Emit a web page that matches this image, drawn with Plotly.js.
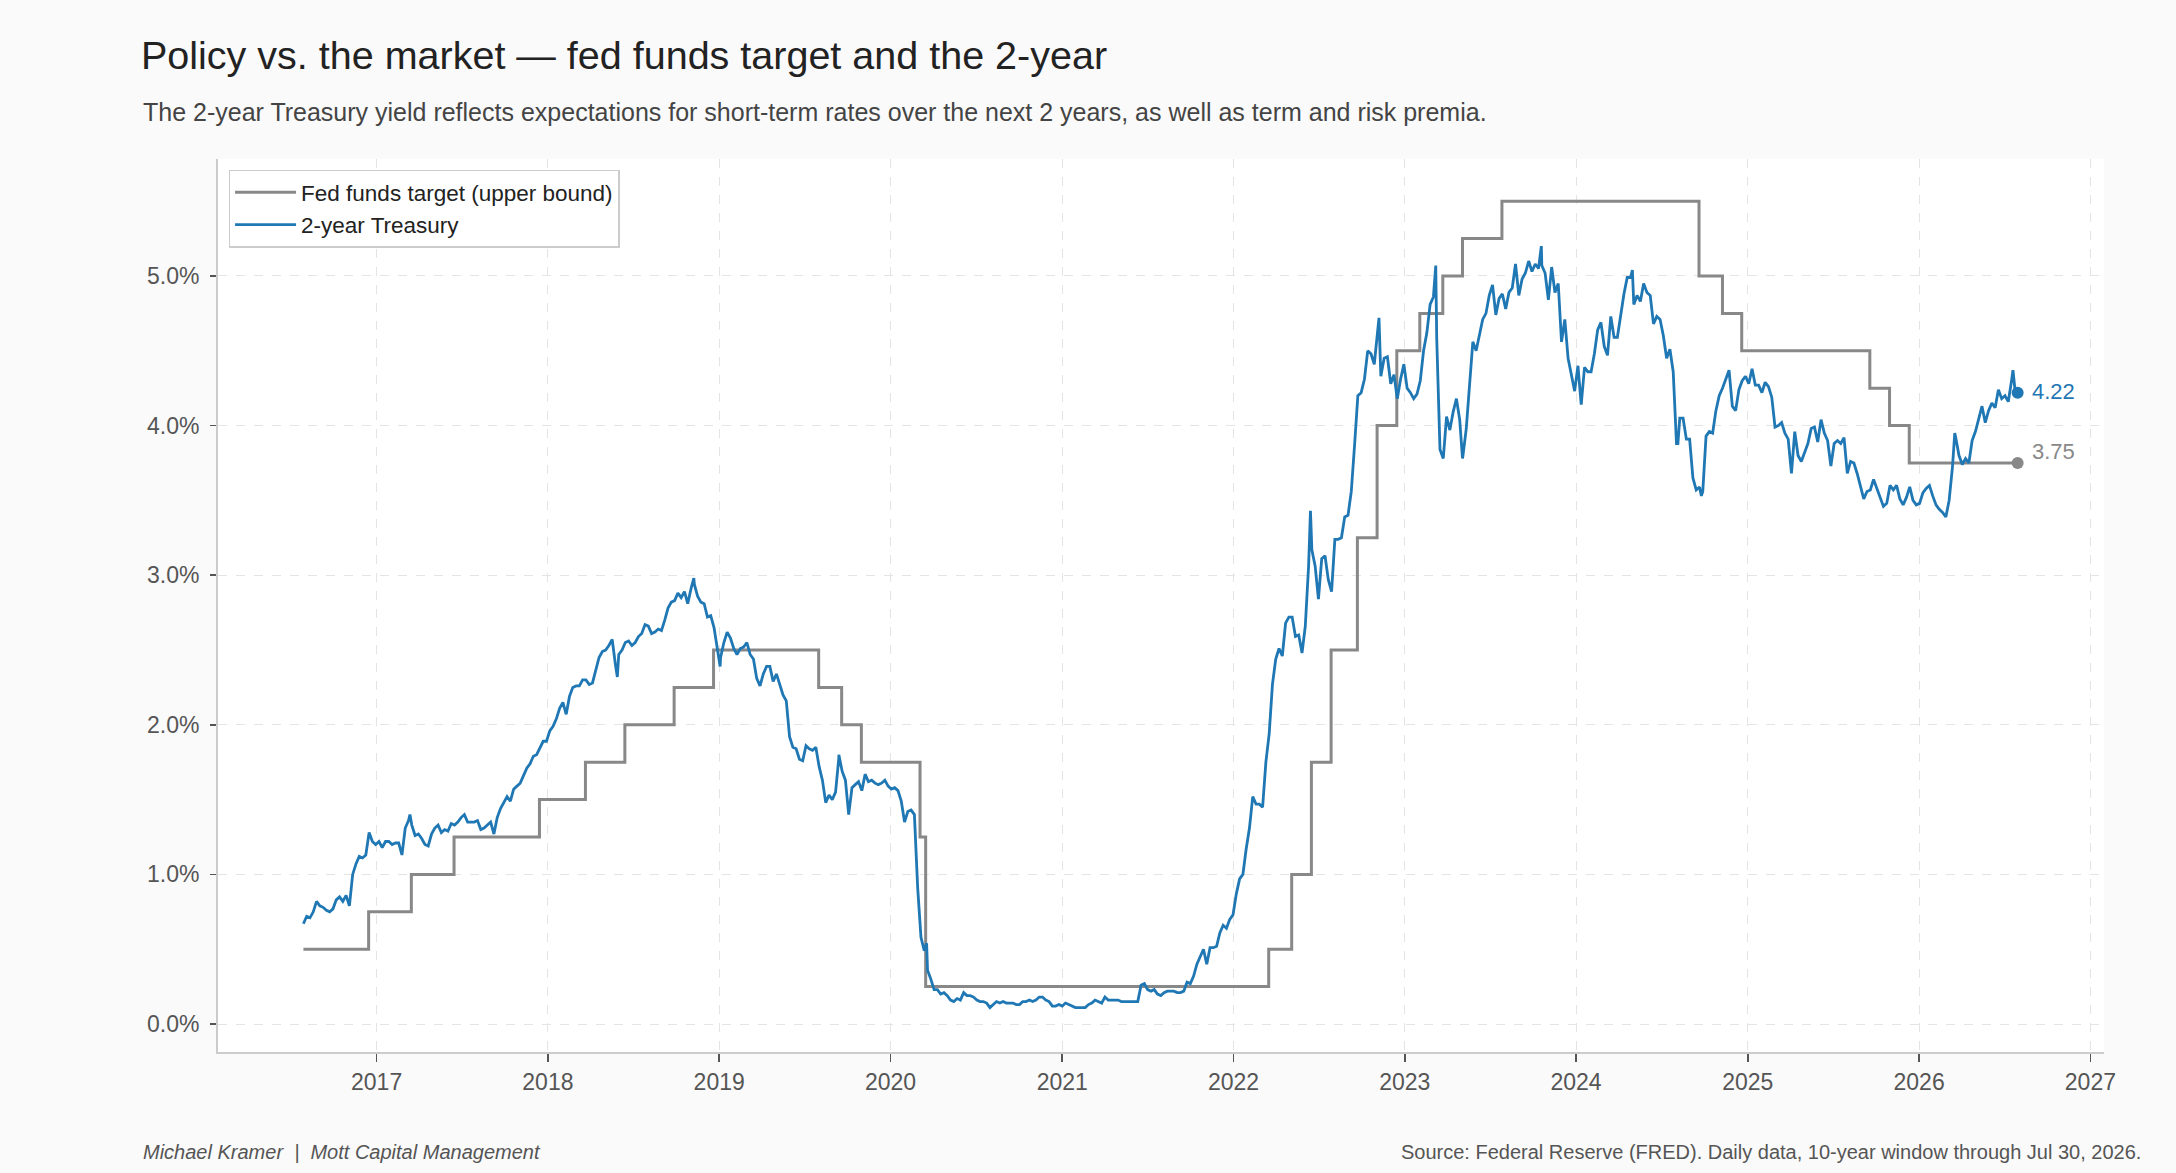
<!DOCTYPE html>
<html>
<head>
<meta charset="utf-8">
<script src="https://cdn.plot.ly/plotly-3.0.1.min.js"></script>
<style>
  html, body { margin: 0; padding: 0; background: #fafafa; }
  #chart { width: 2176px; height: 1173px; }
</style>
</head>
<body>
<div id="chart"></div>
<script>
// ---------------- DATA ----------------
// Fed funds target, upper bound (step changes)
const fedDates = ['2016-07-29','2016-12-15','2017-03-16','2017-06-15','2017-12-14','2018-03-22','2018-06-14','2018-09-27','2018-12-20','2019-08-01','2019-09-19','2019-10-31','2020-03-04','2020-03-16','2022-03-17','2022-05-05','2022-06-16','2022-07-28','2022-09-22','2022-11-03','2022-12-15','2023-02-02','2023-03-23','2023-05-04','2023-07-27','2024-09-19','2024-11-08','2024-12-19','2025-09-18','2025-10-30','2025-12-11','2026-07-30'];
const fedValues = [0.50,0.75,1.00,1.25,1.50,1.75,2.00,2.25,2.50,2.25,2.00,1.75,1.25,0.25,0.50,1.00,1.75,2.50,3.25,4.00,4.50,4.75,5.00,5.25,5.50,5.00,4.75,4.50,4.25,4.00,3.75,3.75];

// 2-year Treasury yield, weekly readings (Fridays) starting 2016-07-29
const ustStart = '2016-07-29';
const ust2016 = [0.67,0.72,0.71,0.75,0.82,0.79,0.78,0.76,0.75,0.77,0.83,0.85,0.82,0.86,0.79,1.00,1.07,1.12,1.11,1.13,1.28,1.22,1.20];
const ust2017 = [1.22,1.18,1.22,1.22,1.20,1.21,1.21,1.13,1.31,1.36,1.33,1.26,1.27,1.24,1.20,1.19,1.27,1.31,1.33,1.28,1.30,1.29,1.34,1.33,1.35,1.38,1.40,1.35,1.35,1.35,1.36,1.30,1.31,1.33,1.35,1.27,1.38,1.44,1.48,1.52,1.49,1.57,1.59,1.61,1.66,1.71,1.74,1.79,1.80,1.84,1.89,1.89];
const ust2018 = [1.96,1.99,2.04,2.11,2.15,2.07,2.19,2.25,2.26,2.26,2.30,2.30,2.27,2.28,2.37,2.45,2.49,2.50,2.53,2.57,2.40,2.47,2.50,2.55,2.56,2.53,2.55,2.59,2.61,2.67,2.66,2.61,2.62,2.64,2.63,2.70,2.78,2.82,2.83,2.88,2.85,2.89,2.81,2.91,2.94,2.86,2.82,2.81,2.72,2.73,2.65,2.52];
const ust2019 = [2.45,2.55,2.62,2.58,2.51,2.47,2.51,2.52,2.55,2.47,2.44,2.31,2.26,2.34,2.39,2.39,2.29,2.34,2.27,2.20,2.16,1.92,1.85,1.84,1.77,1.76,1.86,1.84,1.83,1.85,1.72,1.63,1.48,1.53,1.50,1.55,1.78,1.69,1.63,1.40,1.58,1.60,1.62,1.56,1.67,1.62,1.63,1.61,1.60,1.61,1.63,1.59];
const ust2020 = [1.57,1.58,1.56,1.49,1.35,1.42,1.43,1.40,0.91,0.58,0.49,0.36,0.30,0.23,0.23,0.20,0.21,0.19,0.16,0.15,0.17,0.16,0.21,0.19,0.19,0.18,0.16,0.15,0.15,0.14,0.11,0.13,0.15,0.14,0.15,0.14,0.14,0.14,0.13,0.13,0.15,0.15,0.16,0.15,0.16,0.18,0.18,0.16,0.15,0.12,0.12,0.13];
const ust2021 = [0.12,0.14,0.13,0.12,0.11,0.11,0.11,0.11,0.13,0.14,0.16,0.15,0.14,0.18,0.16,0.16,0.16,0.16,0.15,0.15,0.15,0.15,0.15,0.15,0.26,0.27,0.23,0.22,0.23,0.20,0.19,0.21,0.22,0.22,0.22,0.21,0.21,0.22,0.28,0.27,0.32,0.40,0.45,0.50,0.40,0.51,0.51,0.52,0.61,0.66,0.64,0.70,0.73];
const ust2022 = [0.87,0.97,1.00,1.17,1.31,1.52,1.47,1.47,1.45,1.75,1.94,2.27,2.44,2.51,2.46,2.68,2.72,2.72,2.59,2.60,2.48,2.66,3.06,3.17,3.06,2.84,3.11,3.13,2.97,2.89,3.24,3.24,3.25,3.39,3.40,3.56,3.87,4.20,4.22,4.31,4.50,4.48,4.41,4.66,4.33,4.45,4.46,4.28,4.34,4.18,4.31,4.41];
const ust2023 = [4.25,4.22,4.18,4.21,4.30,4.50,4.62,4.81,4.86,4.59,3.84,3.78,4.06,3.97,4.09,4.18,4.04,3.80,3.98,4.28,4.56,4.50,4.60,4.71,4.75,4.87,4.94,4.74,4.85,4.88,4.78,4.89,4.92,5.08,4.87,4.98,5.02,5.10,5.03,5.08,5.05,5.07,5.02,4.84,5.06,4.89,4.95,4.56,4.71,4.45,4.33,4.23];
const ust2024 = [4.40,4.14,4.39,4.36,4.36,4.48,4.64,4.69,4.53,4.47,4.73,4.59,4.59,4.75,4.88,4.99,4.99,4.81,4.87,4.83,4.95,4.89,4.87,4.68,4.73,4.71,4.60,4.45,4.51,4.36,3.88,4.05,4.05,3.91,3.91,3.65,3.57,3.59,3.56,3.93,3.96,3.95,4.10,4.20,4.25,4.31,4.37,4.13,4.10,4.24,4.30,4.33];
const ust2025 = [4.28,4.38,4.27,4.27,4.22,4.29,4.26,4.19,3.99,4.00,4.02,3.95,3.91,3.68,3.96,3.80,3.76,3.82,3.88,3.98,3.99,3.89,4.04,3.95,3.90,3.73,3.88,3.90,3.88,3.92,3.68,3.76,3.75,3.68,3.59,3.51,3.56,3.57,3.64,3.58,3.52,3.46,3.48,3.60,3.57,3.60,3.51,3.47,3.52,3.59,3.50,3.47];
const ust2026 = [3.48,3.55,3.58,3.60,3.53,3.47,3.44,3.42,3.39,3.50,3.72,3.92,3.80,3.74,3.78,3.75,3.90,3.96,4.05,4.13,4.02,4.10,4.15,4.12,4.24,4.18,4.20,4.16,4.30,4.25];
// Extra daily readings (intra-week highs/lows) and the last observation
const ustExtraDates  = ['2017-03-13','2018-05-29','2018-11-08','2019-01-03','2019-09-13','2020-03-18','2022-06-14','2022-11-07','2023-03-08','2023-05-04','2023-10-19','2024-04-30','2024-08-05','2024-09-24','2026-03-18','2026-07-20','2026-07-30'];
const ustExtraValues = [1.40,2.32,2.98,2.39,1.80,0.54,3.43,4.72,5.07,3.78,5.20,5.04,3.88,3.53,3.95,4.37,4.22];

const endDate = '2026-07-30';
const endFed = 3.75;
const endUst = 4.22;

const yearTicks = ['2017','2018','2019','2020','2021','2022','2023','2024','2025','2026','2027'];
const yTicks = [0,1,2,3,4,5];

// ---------------- BUILD ----------------
function addDays(iso, n) {
  const d = new Date(iso + 'T00:00:00Z');
  d.setUTCDate(d.getUTCDate() + n);
  return d.toISOString().slice(0, 10);
}
const weekly = [].concat(ust2016, ust2017, ust2018, ust2019, ust2020, ust2021, ust2022, ust2023, ust2024, ust2025, ust2026);
let pts = weekly.map((v, i) => [addDays(ustStart, 7 * i), v]);
ustExtraDates.forEach((d, i) => pts.push([d, ustExtraValues[i]]));
pts.sort((a, b) => (a[0] < b[0] ? -1 : a[0] > b[0] ? 1 : 0));
const ustX = pts.map(p => p[0]);
const ustY = pts.map(p => p[1]);

const FONT = '"Liberation Sans", Arial, Helvetica, sans-serif';
const GRAY = '#888888';
const BLUE = '#1f77b4';

const traces = [
  { x: fedDates, y: fedValues, type: 'scatter', mode: 'lines', line: { shape: 'hv', color: GRAY, width: 3 }, name: 'Fed funds target (upper bound)' },
  { x: ustX, y: ustY, type: 'scatter', mode: 'lines', line: { color: BLUE, width: 2.8 }, name: '2-year Treasury' },
  { x: [endDate], y: [endFed], type: 'scatter', mode: 'markers', marker: { color: GRAY, size: 12 }, showlegend: false },
  { x: [endDate], y: [endUst], type: 'scatter', mode: 'markers', marker: { color: BLUE, size: 12 }, showlegend: false }
];

const layout = {
  width: 2176, height: 1173,
  paper_bgcolor: '#fafafa', plot_bgcolor: '#ffffff',
  margin: { l: 218, r: 72, t: 159, b: 121 },
  font: { family: FONT, color: '#333' },
  hovermode: false,
  title: {
    text: 'Policy vs. the market — fed funds target and the 2-year',
    xref: 'container', yref: 'container',
    x: 141 / 2176, xanchor: 'left',
    y: 1 - 55 / 1173, yanchor: 'middle',
    font: { size: 39.5, color: '#222222', family: FONT }
  },
  xaxis: {
    type: 'date',
    range: ['2016-01-29', '2027-01-30'],
    tickvals: yearTicks.map(y => y + '-01-01'),
    ticktext: yearTicks,
    showgrid: true, gridcolor: '#e4e4e4', griddash: 'dash', gridwidth: 1,
    showline: true, linecolor: '#cccccc', linewidth: 2,
    ticks: 'outside', ticklen: 8, tickwidth: 1.5, tickcolor: '#555555',
    tickfont: { size: 23, color: '#555555' },
    zeroline: false
  },
  yaxis: {
    range: [-0.187, 5.782],
    tickvals: yTicks,
    ticktext: yTicks.map(v => v.toFixed(1) + '%'),
    showgrid: true, gridcolor: '#e4e4e4', griddash: 'dash', gridwidth: 1,
    showline: true, linecolor: '#cccccc', linewidth: 2,
    ticks: 'outside', ticklen: 6, tickwidth: 1.5, tickcolor: '#555555',
    tickfont: { size: 23, color: '#555555' },
    ticklabelstandoff: 6,
    zeroline: false
  },
  showlegend: true,
  legend: {
    x: 0.0056, y: 0.988, xanchor: 'left', yanchor: 'top',
    bgcolor: '#ffffff', bordercolor: '#cccccc', borderwidth: 1.5,
    font: { size: 22.5, color: '#222222', family: FONT },
    itemwidth: 61,
    tracegroupgap: 0
  },
  annotations: [
    {
      text: 'The 2-year Treasury yield reflects expectations for short-term rates over the next 2 years, as well as term and risk premia.',
      xref: 'paper', yref: 'paper', x: (141 - 218) / 1886, xanchor: 'left',
      y: (1052 - 112) / 893, yanchor: 'middle', showarrow: false,
      font: { size: 25, color: '#444444', family: FONT }
    },
    {
      text: 'Michael Kramer\u00a0\u00a0|\u00a0\u00a0Mott Capital Management',
      xref: 'paper', yref: 'paper', x: (141 - 218) / 1886, xanchor: 'left',
      y: (1052 - 1152) / 893, yanchor: 'middle', showarrow: false,
      font: { size: 20, color: '#555555', family: FONT, style: 'italic' }
    },
    {
      text: 'Source: Federal Reserve (FRED). Daily data, 10-year window through Jul 30, 2026.',
      xref: 'paper', yref: 'paper', x: (2143 - 218) / 1886, xanchor: 'right',
      y: (1052 - 1152) / 893, yanchor: 'middle', showarrow: false,
      font: { size: 20, color: '#555555', family: FONT }
    },
    {
      text: endUst.toFixed(2), x: endDate, y: endUst, xref: 'x', yref: 'y',
      xanchor: 'left', yanchor: 'middle', xshift: 12, yshift: 1, showarrow: false,
      font: { size: 22, color: BLUE, family: FONT }
    },
    {
      text: endFed.toFixed(2), x: endDate, y: endFed, xref: 'x', yref: 'y',
      xanchor: 'left', yanchor: 'middle', xshift: 12, yshift: 12, showarrow: false,
      font: { size: 22, color: GRAY, family: FONT }
    }
  ]
};

Plotly.newPlot('chart', traces, layout, { displayModeBar: false, staticPlot: true });
</script>
</body>
</html>
